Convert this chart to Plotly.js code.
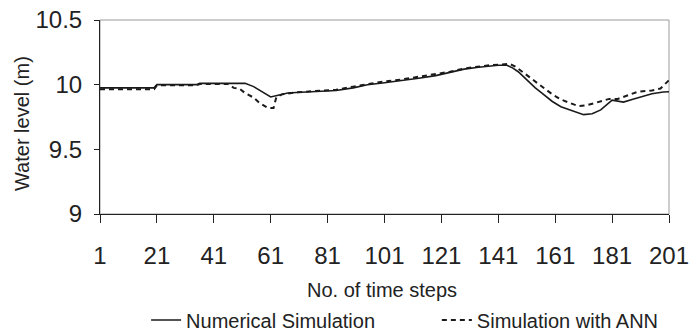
<!DOCTYPE html>
<html>
<head>
<meta charset="utf-8">
<script src="https://cdn.plot.ly/plotly-3.0.1.min.js"></script>
<style>html,body{margin:0;padding:0;background:#fff;}#chart{width:691px;height:334px;}</style>
</head>
<body>
<div id="chart"></div>
<script>
// Numerical Simulation (solid line)
const numSteps = [1, 20, 21, 35, 36, 50, 52, 55, 58, 61, 64, 67, 70, 76, 84, 90, 95, 101, 107, 113, 119, 124, 129, 134, 138, 141, 144, 146, 148, 151, 154, 156, 160, 163, 165, 168, 171, 174, 177, 181, 185, 188, 191, 195, 199, 201];
const numLevel = [9.975, 9.975, 10.0, 10.0, 10.01, 10.01, 10.01, 9.985, 9.945, 9.905, 9.92, 9.935, 9.94, 9.945, 9.955, 9.975, 10.0, 10.015, 10.03, 10.05, 10.07, 10.095, 10.12, 10.135, 10.145, 10.15, 10.15, 10.13, 10.10, 10.035, 9.975, 9.94, 9.87, 9.83, 9.815, 9.79, 9.768, 9.775, 9.805, 9.88, 9.865, 9.885, 9.905, 9.93, 9.943, 9.945];
// Simulation with ANN (dashed line)
const annSteps = [1, 20, 21, 35, 36, 46, 48, 50, 52, 55, 57, 60, 62, 63, 65, 68, 70, 76, 84, 90, 95, 101, 107, 113, 119, 124, 129, 134, 138, 141, 145, 147, 150, 153, 156, 160, 163, 166, 169, 172, 176, 180, 183, 187, 190, 195, 198, 201];
const annLevel = [9.965, 9.965, 9.995, 9.995, 10.005, 10.005, 9.975, 9.97, 9.935, 9.90, 9.86, 9.82, 9.82, 9.905, 9.925, 9.935, 9.94, 9.95, 9.96, 9.985, 10.005, 10.025, 10.04, 10.06, 10.08, 10.10, 10.125, 10.14, 10.15, 10.155, 10.16, 10.14, 10.09, 10.035, 9.985, 9.925, 9.885, 9.86, 9.835, 9.84, 9.865, 9.89, 9.89, 9.92, 9.945, 9.955, 9.97, 10.035];
const xTicks = [1, 21, 41, 61, 81, 101, 121, 141, 161, 181, 201];
const yTicks = [9, 9.5, 10, 10.5];
const yTickText = ['9', '9.5', '10', '10.5'];

const FONT = 'Liberation Sans, Arial, sans-serif';

const traces = [
  {x: numSteps, y: numLevel, type: 'scatter', mode: 'lines', name: 'Numerical Simulation',
   legend: 'legend', line: {color: '#1a1a1a', width: 1.6}},
  {x: annSteps, y: annLevel, type: 'scatter', mode: 'lines', name: 'Simulation with ANN',
   legend: 'legend2', line: {color: '#1a1a1a', width: 2, dash: '5px,4px'}}
];

const legendBase = {orientation: 'h', xref: 'paper', yref: 'container', xanchor: 'left',
  y: 0.042, yanchor: 'middle', font: {family: FONT, size: 20, color: '#222'}, bgcolor: 'rgba(0,0,0,0)'};

const layout = {
  width: 691, height: 334,
  margin: {l: 100, r: 22, t: 20, b: 120},
  paper_bgcolor: '#fff', plot_bgcolor: '#fff',
  font: {family: FONT, color: '#222'},
  showlegend: true,
  legend: Object.assign({}, legendBase, {x: 0.081}),
  legend2: Object.assign({}, legendBase, {x: 0.592}),
  xaxis: {range: [1, 201], tickvals: xTicks, ticktext: xTicks.map(String),
          showgrid: false, zeroline: false, showline: true, linecolor: '#222', linewidth: 1,
          ticks: 'outside', ticklen: 8, tickcolor: '#222', ticklabelstandoff: 12,
          tickfont: {family: FONT, size: 24, color: '#222'}, fixedrange: true},
  yaxis: {range: [9, 10.5], tickvals: yTicks, ticktext: yTickText,
          showgrid: false, zeroline: false, showline: true, linecolor: '#222', linewidth: 1,
          ticks: 'outside', ticklen: 5, tickcolor: '#222', ticklabelstandoff: 7,
          tickfont: {family: FONT, size: 24, color: '#222'}, fixedrange: true},
  shapes: [{type: 'rect', xref: 'paper', yref: 'paper', x0: 0, x1: 1, y0: 0, y1: 1,
            line: {color: '#9a9a9a', width: 1}, layer: 'below'}],
  annotations: [
    {text: 'No. of time steps', xref: 'paper', yref: 'paper', x: 0.496, y: -0.392,
     xanchor: 'center', yanchor: 'middle', showarrow: false, font: {family: FONT, size: 20, color: '#222'}},
    {text: 'Water level (m)', xref: 'paper', yref: 'paper', x: -0.137, y: 0.464,
     xanchor: 'center', yanchor: 'middle', textangle: -90, showarrow: false, font: {family: FONT, size: 20, color: '#222'}}
  ]
};

Plotly.newPlot('chart', traces, layout, {displayModeBar: false, staticPlot: true});
</script>
</body>
</html>
